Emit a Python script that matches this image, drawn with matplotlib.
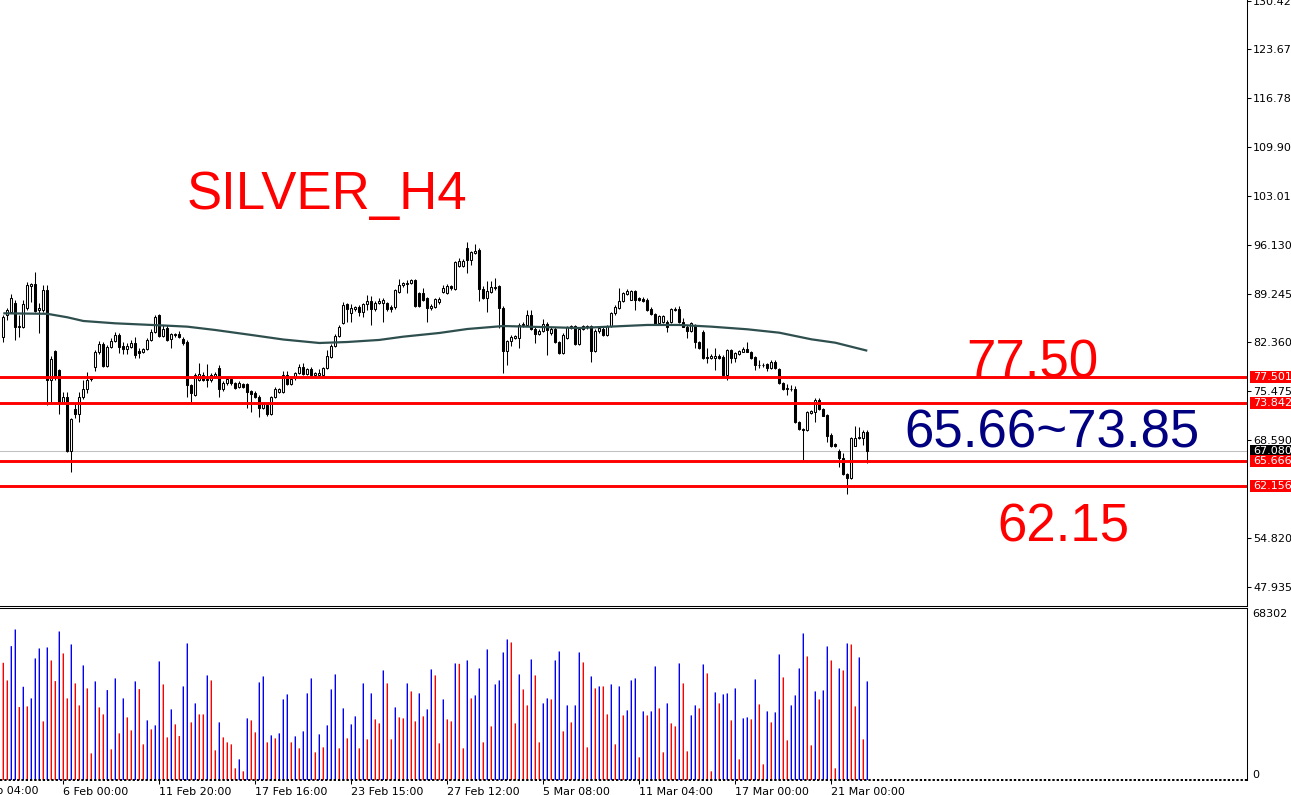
import matplotlib
matplotlib.use("Agg")
import matplotlib.pyplot as plt
import matplotlib.transforms as mtrans
from matplotlib.patches import Rectangle
import numpy as np

# ---------------- data ----------------
opens = [83.18, 86.24, 86.70, 87.89, 84.50, 84.59, 87.18, 90.36, 90.56, 86.94,
         86.94, 89.76, 77.08, 81.16, 78.49, 74.02, 74.64, 67.12, 72.99, 72.29,
         74.64, 75.77, 77.36, 78.87, 80.99, 82.11, 79.05, 81.77, 82.58, 83.42,
         81.87, 81.41, 81.77, 82.25, 81.16, 81.06, 81.40, 82.72, 83.80, 86.24,
         83.32, 84.36, 82.85, 83.42, 83.51, 82.85, 82.48, 76.38, 74.97, 77.08,
         77.79, 77.18, 77.08, 77.64, 78.72, 75.81, 76.61, 77.18, 76.61, 76.13,
         76.52, 76.52, 75.53, 75.20, 74.68, 73.18, 73.56, 72.29, 74.64, 75.43,
         75.43, 77.79, 76.52, 77.32, 78.02, 78.95, 77.88, 78.58, 77.79, 77.79,
         77.79, 78.72, 80.36, 81.91, 83.28, 85.06, 87.74, 86.47, 87.04, 87.40,
         86.70, 87.74, 88.21, 87.04, 87.88, 87.97, 87.88, 87.40, 87.32, 89.52,
         90.46, 90.60, 90.70, 91.16, 89.29, 89.29, 88.59, 87.18, 87.40, 88.06,
         89.43, 89.33, 90.27, 89.94, 93.09, 93.09, 95.67, 94.02, 94.97, 95.43,
         89.94, 88.63, 89.47, 90.04, 90.27, 87.22, 81.12, 82.53, 83.00, 83.00,
         84.78, 84.78, 86.19, 84.30, 83.56, 84.02, 84.96, 83.70, 84.30, 82.43,
         80.88, 83.00, 84.40, 84.64, 82.15, 84.30, 84.50, 84.64, 81.12, 83.94,
         84.30, 83.46, 84.64, 86.52, 87.22, 88.16, 89.19, 88.39, 89.66, 88.63,
         88.49, 88.39, 87.12, 86.38, 85.06, 85.20, 85.29, 85.20, 86.94, 87.08,
         85.29, 84.59, 83.98, 84.83, 82.39, 83.88, 80.36, 80.22, 80.13, 80.50,
         80.36, 77.79, 81.30, 80.22, 80.70, 81.06, 81.44, 81.06, 80.36, 79.15,
         79.19, 79.33, 78.72, 79.65, 78.63, 76.61, 75.81, 75.85, 75.81, 71.12,
         70.18, 70.04, 72.39, 72.53, 74.26, 72.99, 72.15, 69.33, 68.02, 67.12,
         66.05, 63.80, 63.32, 67.82, 68.87, 68.95, 69.80]

highs = [86.24, 87.22, 89.15, 88.35, 86.24, 88.35, 90.93, 90.74, 92.33, 87.93,
         90.46, 90.46, 80.51, 81.30, 78.63, 75.43, 75.43, 71.73, 73.79, 75.43,
         77.08, 78.16, 77.50, 81.30, 82.58, 82.43, 82.01, 82.95, 83.88, 83.70,
         82.48, 82.33, 82.72, 83.18, 81.54, 81.58, 82.95, 84.22, 86.24, 86.38,
         84.83, 84.83, 83.70, 83.70, 83.98, 83.14, 82.72, 76.52, 78.07, 79.43,
         78.25, 79.33, 78.07, 78.21, 79.19, 76.94, 77.36, 77.36, 76.80, 76.94,
         76.66, 76.66, 75.67, 75.53, 74.97, 73.84, 73.70, 74.82, 76.13, 75.95,
         78.35, 78.35, 77.36, 78.21, 79.33, 79.43, 78.77, 78.95, 78.21, 78.58,
         78.91, 81.30, 82.15, 83.56, 84.83, 88.02, 87.93, 87.74, 87.50, 87.64,
         87.93, 89.05, 88.95, 88.21, 88.58, 88.58, 88.06, 87.64, 89.90, 91.30,
         90.88, 91.16, 91.30, 91.26, 89.47, 89.99, 88.77, 87.78, 88.63, 88.77,
         90.50, 90.60, 90.46, 93.84, 94.26, 94.12, 96.51, 95.25, 96.23, 95.67,
         90.32, 90.98, 90.98, 91.44, 90.46, 87.50, 82.72, 83.46, 83.42, 85.11,
         85.25, 86.98, 86.98, 84.54, 84.26, 85.71, 85.25, 84.54, 84.54, 82.58,
         83.70, 84.68, 84.83, 84.83, 84.54, 84.83, 84.83, 84.83, 84.26, 84.68,
         84.54, 84.83, 86.66, 87.64, 90.04, 89.47, 89.90, 89.76, 89.76, 88.77,
         88.77, 88.63, 87.36, 86.52, 86.24, 86.24, 85.53, 87.22, 87.40, 87.54,
         85.77, 84.83, 85.25, 84.96, 82.58, 84.12, 81.54, 80.74, 81.54, 80.74,
         80.60, 81.44, 81.44, 81.02, 81.30, 81.77, 82.48, 81.16, 80.46, 79.90,
         79.47, 79.47, 79.90, 79.90, 78.77, 76.80, 76.47, 76.38, 76.24, 71.30,
         70.32, 72.71, 72.85, 74.50, 74.50, 73.13, 72.29, 69.61, 68.21, 67.36,
         66.75, 63.98, 69.05, 70.64, 70.50, 70.04, 70.04]

lows = [82.48, 85.53, 86.52, 82.72, 83.18, 84.40, 86.94, 88.11, 86.66, 83.65,
        86.66, 73.56, 73.81, 77.08, 72.24, 73.84, 66.98, 64.12, 71.68, 71.21,
        74.40, 75.20, 76.94, 78.39, 80.75, 78.91, 78.91, 81.58, 82.43, 80.84,
        80.70, 80.70, 81.58, 80.22, 80.14, 80.88, 81.30, 82.58, 83.70, 83.14,
        83.14, 82.58, 81.54, 83.14, 82.99, 82.01, 74.73, 74.02, 74.82, 76.94,
        76.94, 76.05, 76.80, 77.36, 74.68, 75.53, 76.38, 76.38, 75.81, 75.95,
        75.95, 73.09, 72.61, 74.54, 71.91, 72.99, 72.01, 72.15, 74.54, 75.25,
        75.25, 76.38, 76.38, 77.08, 77.93, 77.79, 77.79, 77.64, 77.50, 77.64,
        77.64, 78.63, 80.18, 81.72, 83.14, 84.96, 85.29, 85.29, 86.80, 86.13,
        86.00, 86.94, 84.83, 86.80, 87.78, 85.29, 86.80, 86.66, 87.08, 89.33,
        90.18, 89.29, 90.60, 87.36, 87.36, 88.21, 85.20, 86.94, 87.22, 87.78,
        89.33, 89.19, 89.76, 89.76, 92.99, 92.99, 92.15, 93.23, 94.82, 88.25,
        88.49, 86.66, 89.33, 89.76, 84.40, 78.07, 79.23, 81.82, 82.85, 81.58,
        84.54, 84.68, 84.12, 82.29, 83.42, 83.84, 80.64, 83.42, 82.29, 80.74,
        80.74, 82.85, 84.26, 82.01, 82.01, 84.12, 84.26, 79.61, 81.02, 83.70,
        83.28, 83.28, 84.54, 86.28, 87.08, 88.06, 89.05, 88.35, 86.98, 88.21,
        88.06, 86.80, 86.24, 84.83, 84.96, 85.11, 83.88, 85.11, 86.80, 85.11,
        84.54, 83.04, 83.84, 81.54, 81.44, 80.08, 79.43, 80.04, 78.49, 80.04,
        77.64, 77.08, 79.51, 79.65, 80.60, 81.02, 81.02, 80.04, 78.49, 78.72,
        78.91, 78.35, 78.63, 78.63, 76.52, 75.67, 74.97, 75.53, 71.02, 70.04,
        65.81, 69.89, 72.29, 71.21, 72.85, 72.01, 68.39, 67.68, 67.64, 64.87,
        63.70, 60.98, 63.18, 67.78, 68.77, 67.93, 65.37]

closes = [86.00, 86.94, 88.59, 84.59, 84.69, 87.75, 90.46, 90.56, 86.80, 87.26,
          89.76, 77.08, 80.00, 77.54, 74.02, 74.64, 67.12, 71.54, 72.29, 74.64,
          75.77, 77.08, 77.22, 80.99, 82.11, 79.05, 81.77, 82.58, 83.42, 81.77,
          81.41, 81.87, 82.25, 80.60, 80.84, 81.40, 82.72, 83.80, 86.00, 83.32,
          84.26, 82.72, 83.51, 83.51, 83.18, 82.25, 76.38, 75.20, 77.79, 77.93,
          77.08, 77.08, 77.79, 77.93, 75.81, 76.70, 77.18, 76.61, 75.99, 76.70,
          76.13, 75.43, 75.06, 74.73, 73.18, 73.66, 72.29, 74.64, 75.81, 75.81,
          77.79, 76.52, 77.22, 78.02, 78.95, 77.88, 78.58, 77.79, 78.02, 78.11,
          78.72, 80.46, 81.91, 83.28, 84.59, 87.64, 87.08, 87.18, 87.36, 86.70,
          87.74, 88.21, 87.04, 87.97, 88.21, 88.30, 87.04, 87.04, 89.76, 90.46,
          90.70, 90.78, 91.16, 87.50, 87.54, 88.35, 87.18, 87.54, 88.44, 88.49,
          90.04, 90.36, 90.04, 93.70, 93.80, 93.88, 94.02, 95.11, 95.29, 89.94,
          88.63, 89.57, 90.13, 90.22, 87.22, 81.12, 82.53, 83.14, 83.23, 84.87,
          84.96, 86.19, 84.30, 83.56, 84.02, 84.96, 84.16, 84.30, 82.43, 80.88,
          83.46, 84.50, 84.64, 82.15, 84.30, 84.64, 84.64, 81.12, 84.02, 84.40,
          83.46, 84.64, 86.52, 87.36, 88.25, 89.33, 89.66, 89.66, 88.39, 88.39,
          88.25, 86.98, 86.38, 84.96, 86.09, 86.09, 84.59, 87.08, 87.08, 85.20,
          84.59, 83.98, 85.06, 82.39, 81.54, 80.22, 80.22, 80.50, 80.46, 80.22,
          77.79, 81.30, 80.22, 80.84, 81.16, 81.44, 81.06, 80.22, 79.19, 79.23,
          79.15, 78.72, 79.65, 78.72, 76.61, 75.81, 75.91, 75.81, 71.12, 70.18,
          70.04, 72.61, 72.71, 74.26, 72.99, 72.05, 69.23, 67.82, 67.82, 66.05,
          63.80, 63.32, 68.87, 68.95, 69.09, 69.80, 67.08]

volumes = [46816, 39767, 53466, 60116, 29127, 37240, 29393, 32585, 48545, 52535,
           23408, 52934, 47747, 39501, 59318, 50540, 32585, 54131, 38570, 29792,
           45752, 36575, 10640, 39368, 28994, 26201, 35910, 12236, 40565, 18620,
           32585, 25004, 19817, 39368, 36309, 14231, 23807, 20216, 21812, 47348,
           38171, 17024, 28196, 22211, 17556, 37373, 54530, 23009, 30590, 26201,
           26201, 41762, 39767, 11837, 23009, 17024, 15029, 14231, 4655, 8246,
           3458, 24605, 23807, 19019, 38969, 41363, 15029, 17822, 16625, 18620,
           32186, 34181, 15029, 17423, 12635, 19418, 34580, 40565, 11039, 18221,
           13034, 21812, 36176, 42161, 12635, 28595, 16625, 22211, 25403, 12635,
           38570, 16226, 34580, 24206, 22610, 43757, 38570, 16226, 28994, 25004,
           24605, 38570, 35378, 23408, 34580, 25403, 28196, 44156, 41762, 14630,
           32186, 24206, 23408, 46550, 46400, 12635, 47747, 32585, 33782, 44555,
           15029, 52136, 21413, 38171, 39767, 50939, 56126, 54929, 22610, 42161,
           36176, 29792, 48146, 41762, 15029, 30590, 32585, 32186, 47747, 51338,
           19418, 29792, 23009, 29792, 50939, 46949, 13034, 41363, 36575, 37373,
           37373, 26201, 38171, 14231, 37373, 25802, 27797, 39767, 40565, 9044,
           27398, 25802, 27398, 45353, 28595, 11039, 30590, 22610, 21413, 46550,
           38570, 11438, 25802, 29792, 28595, 46151, 42560, 3458, 34979, 30590,
           34181, 34580, 23807, 36575, 8246, 24605, 25004, 24206, 40166, 30191,
           6251, 27398, 23009, 26999, 50141, 40964, 15827, 29792, 33782, 44555,
           58520, 49343, 13832, 35378, 32186, 35777, 53333, 47747, 4655, 44555,
           43757, 54530, 54131, 29393, 48944, 16226, 39368]

ma_idx = [0, 11, 16, 20, 28, 41, 46, 53, 62, 70, 79, 86, 94, 100, 109, 116, 125,
          144, 161, 169, 177, 186, 194, 202, 208, 216]
ma_val = [86.47, 86.40, 85.91, 85.39, 85.06, 84.73, 84.59, 84.12, 83.42, 82.78,
          82.29, 82.43, 82.72, 83.18, 83.70, 84.26, 84.68, 84.40, 84.83, 84.83,
          84.59, 84.22, 83.74, 82.81, 82.33, 81.20]

levels = [77.501, 73.842, 65.666, 62.156]
level_labels = ["77.501", "73.842", "65.666", "62.156"]
last_price = 67.080
last_label = "67.080"

price_ticks = [47.935, 54.820, 68.590, 75.475, 82.360, 89.245, 96.130,
               103.015, 109.900, 116.785, 123.670, 130.420]
price_tick_labels = ["47.935", "54.820", "68.590", "75.475", "82.360", "89.245",
                     "96.130", "103.015", "109.900", "116.785", "123.670", "130.420"]

vol_max_label = 68302

time_tick_idx = [-9, 15, 39, 63, 87, 111, 135, 159, 183, 207]
time_tick_labels = ["2 Feb 04:00", "6 Feb 00:00", "11 Feb 20:00", "17 Feb 16:00",
                    "23 Feb 15:00", "27 Feb 12:00", "5 Mar 08:00", "11 Mar 04:00",
                    "17 Mar 00:00", "21 Mar 00:00"]

title_text = "SILVER_H4"
resist_text = "77.50"
range_text = "65.66~73.85"
support_text = "62.15"

# ---------------- figure ----------------
W, H = 1291, 795
fig = plt.figure(figsize=(W / 100, H / 100), dpi=100)
fig.patch.set_facecolor("white")

ax_right_px = 1247
main_bot_px = 606
vol_top_px = 608
vol_bot_px = 780

ax = fig.add_axes([0, 1 - main_bot_px / H, ax_right_px / W, main_bot_px / H])
axv = fig.add_axes([0, 1 - vol_bot_px / H, ax_right_px / W, (vol_bot_px - vol_top_px) / H])

n = len(closes)
assert len(opens) == n and len(highs) == n and len(lows) == n and len(volumes) == n
x = np.arange(n)
o = np.array(opens)
c = np.array(closes)
h = np.maximum(np.array(highs), np.maximum(o, c))
l = np.minimum(np.array(lows), np.minimum(o, c))

lw1 = 0.75  # ~1 px

# current price line
ax.axhline(last_price, color="#C0C0C0", lw=lw1, zorder=1)

# wicks
ax.vlines(x, l, h, color="black", lw=lw1, zorder=2)
# bodies
up = c >= o
lo = np.minimum(o, c)
bh = np.abs(c - o)
ax.bar(x[up], bh[up], bottom=lo[up], width=0.5, facecolor="white",
       edgecolor="black", linewidth=lw1, zorder=3)
ax.bar(x[~up], bh[~up], bottom=lo[~up], width=0.5, facecolor="black",
       edgecolor="black", linewidth=lw1, zorder=3)

# moving average
ax.plot(ma_idx, ma_val, color="#2F4F4F", lw=1.6, zorder=4, solid_capstyle="butt")

# horizontal levels
for v in levels:
    ax.axhline(v, color="#FF0000", lw=2.1, zorder=5)

# axes styling (main)
for s in ["top", "left"]:
    ax.spines[s].set_visible(False)
ax.spines["right"].set_linewidth(lw1)
ax.spines["bottom"].set_linewidth(lw1)
ax.yaxis.tick_right()
ax.set_yticks(price_ticks)
ax.set_yticklabels(price_tick_labels)
ax.tick_params(axis="y", length=2.9, width=lw1, pad=1.6, labelsize=8, colors="black")
ax.set_xticks([])

# ---------------- volume ----------------
vol = np.array(volumes)
is_up = np.zeros(n, dtype=bool)
is_up[1:] = vol[1:] > vol[:-1]
axv.vlines(x[is_up], 0, vol[is_up], color="#0000FF", lw=1.0, snap=False, zorder=2)
axv.vlines(x[~is_up], 0, vol[~is_up], color="#FF0000", lw=1.0, snap=False, zorder=2)
axv.axhline(0, color="black", lw=1.4, ls=(0, (1.2, 1.0)), clip_on=False, zorder=3)
for s in ["left", "bottom"]:
    axv.spines[s].set_visible(False)
axv.spines["top"].set_linewidth(lw1)
axv.spines["right"].set_linewidth(lw1)
axv.set_yticks([])

axv.set_xticks(time_tick_idx[1:])
axv.set_xticklabels(time_tick_labels[1:])
axv.tick_params(axis="x", length=2.9, width=lw1, pad=1.8, labelsize=8, colors="black")
for lab in axv.get_xticklabels():
    lab.set_horizontalalignment("left")

# limits set last
ax.set_xlim(-0.825, 310.925)
axv.set_xlim(-0.825, 310.925)
ax.set_ylim(45.245, 130.60)
axv.set_ylim(0, 68700)

# first (partly hidden) time label, left of the visible range
tb = mtrans.offset_copy(mtrans.blended_transform_factory(axv.transData, axv.transAxes),
                        fig=fig, x=6, y=-6.5, units="dots")
axv.text(time_tick_idx[0], 0, time_tick_labels[0], transform=tb, fontsize=8,
         ha="left", va="top", color="black", clip_on=False)

# right-side price labels (boxes)
blend = mtrans.blended_transform_factory(fig.transFigure, ax.transData)
box_h = 1.72  # price units (~12 px)
def price_box(v, s, fc):
    ax.add_patch(Rectangle((1249.5 / W, v - box_h / 2), (W - 1249.5) / W, box_h,
                           transform=blend, facecolor=fc, edgecolor="none",
                           clip_on=False, zorder=10))
    ax.text(1253.5 / W, v, s, transform=blend, color="white", fontsize=8,
            va="center", ha="left", clip_on=False, zorder=11)

price_box(last_price, last_label, "black")
for v, s in zip(levels, level_labels):
    price_box(v, s, "#FF0000")

vblend = mtrans.blended_transform_factory(fig.transFigure, axv.transData)
axv.text(1252 / W, vol_max_label, str(vol_max_label), transform=vblend, fontsize=8,
         va="top", ha="left", color="black", clip_on=False)
axv.text(1252 / W, 0, "0", transform=vblend, fontsize=8, va="bottom", ha="left",
         color="black", clip_on=False)

# ---------------- annotations ----------------
big = dict(family="Liberation Sans", fontsize=38, ha="left", va="baseline")
fig.text(187 / W, 1 - 209 / H, title_text, color="#FF0000", **big)
fig.text(966 / W, 1 - 377 / H, resist_text, color="#FF0000", **big)
fig.text(904 / W, 1 - 447 / H, range_text, color="#000080", **big)
fig.text(997 / W, 1 - 542 / H, support_text, color="#FF0000", **big)

fig.savefig("out.png", dpi=100, facecolor="white")
